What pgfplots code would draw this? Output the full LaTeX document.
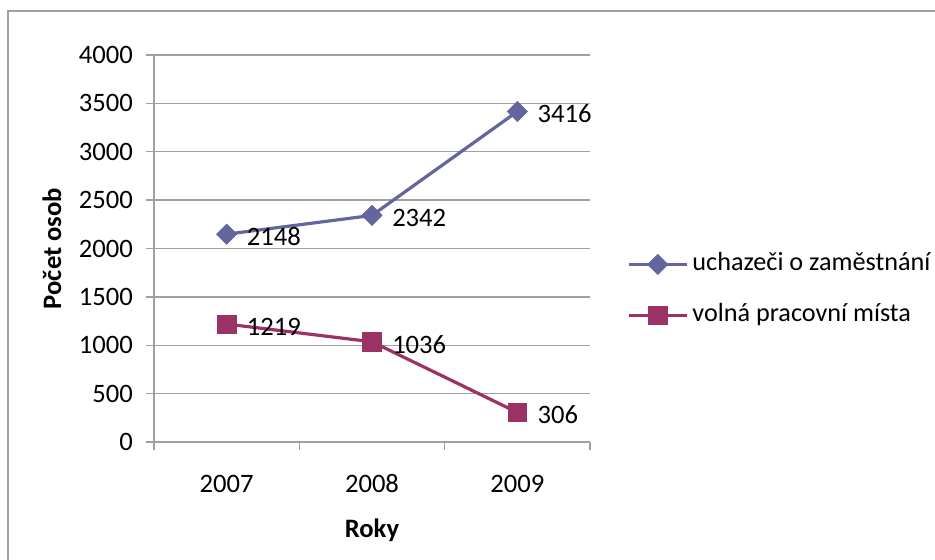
\documentclass[border=0pt]{standalone}
\usepackage{fontspec}
\setmainfont{Carlito}
\usepackage{pgfplots}
\pgfplotsset{compat=1.18}
\definecolor{serA}{RGB}{100,100,158}
\definecolor{serB}{RGB}{155,50,102}
\definecolor{gridc}{RGB}{160,160,160}
\newcommand{\bigf}{\fontsize{26.6bp}{31bp}\selectfont}
\newcommand{\legf}{\fontsize{26.2bp}{31bp}\selectfont}
\begin{document}
\begin{tikzpicture}
\useasboundingbox (0,0) rectangle (935bp,-560bp);
\draw[gridc, line width=1.5bp] (8bp,-565bp) -- (8bp,-11bp) -- (940bp,-11bp);
\begin{axis}[
  at={(154bp,-442bp)}, anchor=south west,
  scale only axis, width=436bp, height=387bp,
  xmin=-0.5, xmax=2.5, ymin=0, ymax=4000,
  axis x line=bottom, axis y line=left,
  axis line style={-, draw=gridc, line width=1.3bp},
  ytick={0,500,...,4000},
  ymajorgrids, major grid style={draw=gridc, line width=1.3bp},
  tick align=outside, major tick length=8bp,
  tick style={draw=gridc, line width=1.3bp},
  xtick={-0.5,0.5,1.5,2.5}, xticklabels={,,,},
  extra x ticks={0,1,2}, extra x tick labels={2007,2008,2009},
  extra x tick style={major tick length=0pt, xmajorgrids=false, xticklabel style={anchor=base, yshift=-50bp}},
  /pgf/number format/assume math mode=true,
  /pgf/number format/1000 sep={},
  tick label style={font=\bigf},
  yticklabel style={anchor=east, inner sep=0pt, xshift=-13bp},
  xlabel={Roky}, ylabel={Počet osob},
  label style={font=\bigf\bfseries},
  xlabel style={at={(axis description cs:0.5,-0.2455)}, anchor=base},
  ylabel style={at={(axis description cs:-0.234,0.5)}, anchor=center},
  nodes near coords,
  every node near coord/.append style={font=\bigf, text=black, anchor=west, inner sep=0pt, xshift=20bp, yshift=-2.5bp},
  legend style={draw=none, fill=none, at={(axis description cs:1.085,0.393)}, anchor=west, inner sep=0pt, font=\legf, row sep=27bp, nodes={inner sep=0pt, text height=18bp, text depth=6bp}, /tikz/every odd column/.append style={column sep=4bp}},
  legend cell align=left,
  legend image code/.code={\draw[mark repeat=2,mark phase=2] plot coordinates {(0bp,0bp) (29bp,0bp) (58bp,0bp)};},
]
\addplot[serA, line width=3.2bp, mark=square*, mark size=7.2bp, mark options={rotate=45, solid, line width=0.5bp}] coordinates {(0,2148) (1,2342) (2,3416)};
\addplot[serB, line width=3.2bp, mark=square*, mark size=9.3bp, mark options={solid, line width=0.5bp}] coordinates {(0,1219) (1,1036) (2,306)};
\legend{uchazeči o zaměstnání, volná pracovní místa}
\end{axis}
\end{tikzpicture}
\end{document}
